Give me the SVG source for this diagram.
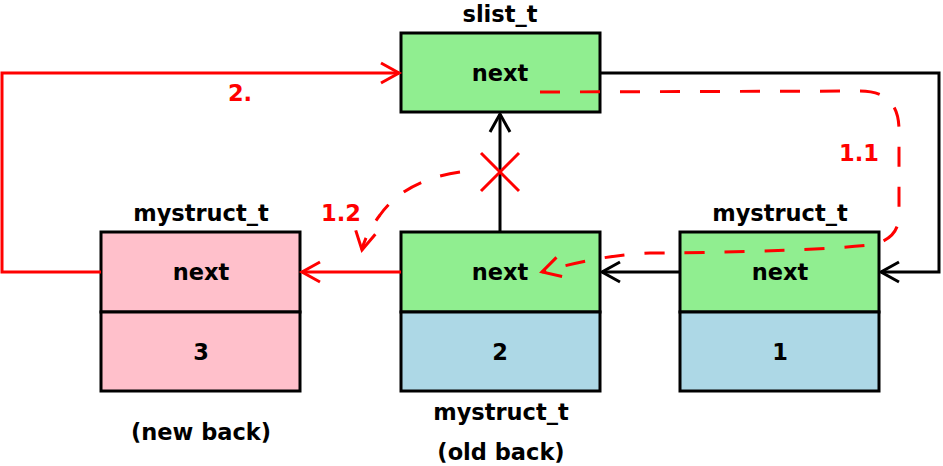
<svg xmlns="http://www.w3.org/2000/svg" width="943" height="466" viewBox="0 0 943 466">
<style>
.box{stroke:#000;stroke-width:3}
.t{font-family:"DejaVu Sans",sans-serif;font-weight:bold;font-size:22.5px;text-anchor:middle;fill:#000}
.r{fill:#ff0000}
.bl{fill:none;stroke:#000;stroke-width:3}
.rl{fill:none;stroke:#ff0000;stroke-width:3}
.rd{fill:none;stroke:#ff0000;stroke-width:3;stroke-dasharray:20 20}
</style>
<defs>
<marker id="ab" markerWidth="24" markerHeight="24" refX="20" refY="12" orient="auto" markerUnits="userSpaceOnUse" overflow="visible">
<path d="M2,2 L20,12 L2,22" fill="none" stroke="#000" stroke-width="3"/>
</marker>
<marker id="ar" markerWidth="24" markerHeight="24" refX="20" refY="12" orient="auto" markerUnits="userSpaceOnUse" overflow="visible">
<path d="M2,2 L20,12 L2,22" fill="none" stroke="#ff0000" stroke-width="3"/>
</marker>
</defs>
<g id="slist">
<rect class="box" x="401" y="33" width="199" height="79" fill="#90ee90"/>
<text class="t" x="500" y="22">slist_t</text>
<text class="t" x="500" y="81">next</text>
</g>
<g id="node3">
<rect class="box" x="101" y="232" width="199" height="80" fill="#ffc0cb"/>
<rect class="box" x="101" y="312" width="199" height="79" fill="#ffc0cb"/>
<text class="t" x="201" y="221">mystruct_t</text>
<text class="t" x="201" y="280">next</text>
<text class="t" x="201" y="360">3</text>
<text class="t" x="201" y="440">(new back)</text>
</g>
<g id="node2">
<rect class="box" x="401" y="232" width="199" height="80" fill="#90ee90"/>
<rect class="box" x="401" y="312" width="199" height="79" fill="#add8e6"/>
<text class="t" x="500" y="280">next</text>
<text class="t" x="500" y="360">2</text>
<text class="t" x="501" y="420">mystruct_t</text>
<text class="t" x="501" y="460">(old back)</text>
</g>
<g id="node1">
<rect class="box" x="680" y="232" width="199" height="80" fill="#90ee90"/>
<rect class="box" x="680" y="312" width="199" height="79" fill="#add8e6"/>
<text class="t" x="780" y="221">mystruct_t</text>
<text class="t" x="780" y="280">next</text>
<text class="t" x="780" y="360">1</text>
</g>
<g id="connectors">
<path class="bl" d="M600,73 H939 V272 H881" marker-end="url(#ab)"/>
<path class="bl" d="M680,272 H602" marker-end="url(#ab)"/>
<path class="bl" d="M500,232 V114" marker-end="url(#ab)"/>
<path class="rl" d="M401,272 H302" marker-end="url(#ar)"/>
<path class="rl" d="M101,272 H2 V73 H399" marker-end="url(#ar)"/>
<path class="rd" d="M540,92 L860,91 Q899,91 899,130 L899,215 Q899,240 870,245 Q800,252 650,253 Q600,255 542,272" marker-end="url(#ar)"/>
<path class="rd" d="M460,172 Q405,180 380,215 Q365,235 362,250" marker-end="url(#ar)"/>
<path class="rl" d="M481,153 L519,191 M519,153 L481,191"/>
<text class="t r" x="240" y="101">2.</text>
<text class="t r" x="859" y="161">1.1</text>
<text class="t r" x="341" y="221">1.2</text>
</g>
</svg>
